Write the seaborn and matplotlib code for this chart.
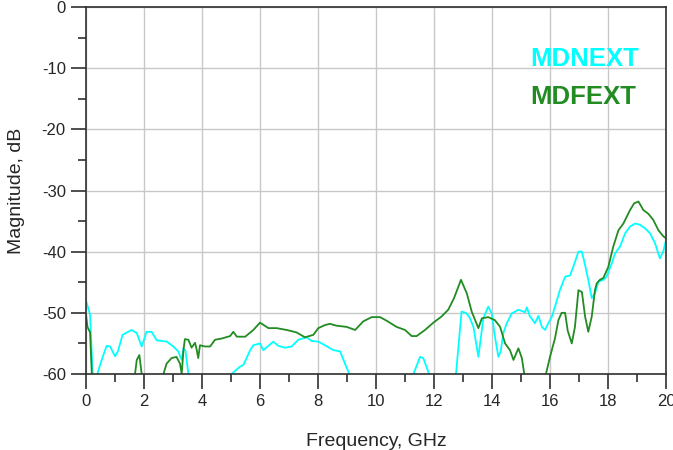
"""Crosstalk magnitude plot: MDNEXT and MDFEXT vs frequency."""

import matplotlib
import numpy as np
import pandas as pd
import seaborn as sns

matplotlib.use("Agg")
import matplotlib.pyplot as plt
from matplotlib.ticker import MultipleLocator

# values; -65 means "below the plot floor"
next_freq = [0.0, 0.14, 0.23, 0.3, 0.39, 0.54, 0.71, 0.83, 1.0, 1.1, 1.26, 1.57, 1.75, 1.92,
             2.09, 2.26, 2.44, 2.78, 3.01, 3.18, 3.3, 3.36, 3.43, 3.53, 3.6,
             4.95, 5.02, 5.31, 5.43, 5.66, 5.77, 6.0, 6.11, 6.29, 6.46, 6.63, 6.86, 7.09,
             7.32, 7.61, 7.78, 8.01, 8.24, 8.53, 8.76, 8.93, 9.08, 9.15,
             11.22, 11.29, 11.52, 11.63, 11.83, 11.9,
             12.72, 12.76, 12.95, 13.1, 13.22, 13.36, 13.53, 13.59, 13.7, 13.87, 13.99,
             14.1, 14.22, 14.3, 14.39, 14.51, 14.68, 14.91, 15.14, 15.2, 15.3, 15.48,
             15.6, 15.72, 15.83, 15.94, 16.06, 16.17, 16.34, 16.52, 16.69, 16.8, 16.98,
             17.1, 17.21, 17.32, 17.44, 17.55, 17.67, 17.84, 17.95, 18.13, 18.24, 18.41,
             18.59, 18.76, 18.93, 19.1, 19.28, 19.45, 19.62, 19.79, 19.91, 20.0]
next_db = [-48.0, -50.3, -60.0, -65.0, -60.0, -57.7, -55.4, -55.5, -57.1, -56.3, -53.6, -52.8,
           -53.3, -55.5, -53.1, -53.1, -54.5, -54.7, -55.5, -56.3, -57.7, -55.8, -56.2, -60.0,
           -65.0,
           -65.0, -60.0, -58.8, -58.5, -56.1, -55.3, -55.0, -56.1, -55.4, -54.7, -55.4, -55.7,
           -55.5, -54.4, -54.0, -54.6, -54.7, -55.3, -56.1, -56.3, -58.3, -60.0, -65.0,
           -65.0, -60.0, -57.2, -57.4, -60.0, -65.0,
           -65.0, -59.9, -49.8, -50.0, -50.7, -52.3, -57.2, -55.0, -50.9, -49.0, -50.1,
           -53.9, -57.2, -56.3, -53.3, -51.7, -50.1, -49.5, -49.9, -49.1, -50.5, -51.7,
           -50.5, -52.3, -52.8, -51.7, -50.7, -49.0, -46.3, -44.1, -43.9, -42.5, -40.0,
           -40.0, -42.2, -44.6, -47.6, -46.8, -44.9, -44.6, -44.1, -41.9, -40.3, -39.2,
           -37.0, -35.9, -35.4, -35.6, -36.2, -37.0, -38.6, -41.1, -39.9, -38.1]

fext_freq = [0.0, 0.05, 0.14, 0.2, 0.25,
             1.62, 1.69, 1.75, 1.84, 1.92, 1.98,
             2.6, 2.67, 2.78, 2.95, 3.12, 3.24, 3.3, 3.36, 3.41, 3.53, 3.64, 3.76, 3.82,
             3.87, 3.93, 4.1, 4.28, 4.45, 4.68, 4.97, 5.08, 5.2, 5.49, 5.77, 6.0, 6.29,
             6.57, 6.92, 7.26, 7.55, 7.84, 8.01, 8.24, 8.41, 8.64, 8.99, 9.28, 9.56, 9.85,
             10.14, 10.37, 10.71, 11.0, 11.23, 11.4, 11.69, 11.98, 12.26, 12.49, 12.69,
             12.93, 13.13, 13.3, 13.53, 13.65, 13.87, 14.1, 14.28, 14.45, 14.62, 14.74,
             14.91, 15.03, 15.11, 15.18,
             15.8, 15.86, 16.0, 16.17, 16.29, 16.4, 16.52, 16.61, 16.75, 16.86, 16.98,
             17.1, 17.21, 17.32, 17.44, 17.55, 17.61, 17.72, 17.84, 18.01, 18.18, 18.36,
             18.53, 18.76, 18.9, 19.05, 19.22, 19.39, 19.56, 19.74, 19.91, 20.0]
fext_db = [-50.3, -52.3, -53.2, -60.0, -65.0,
           -65.0, -60.0, -57.7, -56.9, -60.0, -65.0,
           -65.0, -60.0, -58.3, -57.4, -57.2, -58.3, -60.0, -56.1, -54.3, -54.4, -55.7,
           -54.9, -56.1, -57.4, -55.3, -55.5, -55.5, -54.4, -54.2, -53.8, -53.1, -53.9,
           -53.9, -52.8, -51.6, -52.5, -52.5, -52.8, -53.2, -54.0, -53.6, -52.5, -52.0,
           -51.8, -52.1, -52.3, -52.8, -51.4, -50.7, -50.7, -51.3, -52.3, -52.8, -53.8,
           -53.8, -52.8, -51.6, -50.6, -49.5, -47.6, -44.6, -46.8, -49.8, -52.5, -50.9,
           -50.7, -51.2, -52.3, -55.0, -56.1, -57.7, -55.8, -57.4, -59.9, -65.0,
           -65.0, -60.0, -57.2, -54.2, -51.2, -50.0, -50.0, -52.9, -55.0, -52.3, -46.3,
           -46.6, -50.6, -53.1, -50.6, -46.3, -45.2, -44.6, -44.3, -42.5, -39.2, -36.5,
           -35.4, -33.2, -32.1, -31.8, -33.2, -33.8, -34.8, -36.5, -37.5, -37.8]

series_names = ["MDNEXT", "MDFEXT"]
colors = {"MDNEXT": "#00FFFF", "MDFEXT": "#228B22"}

df = pd.concat([
    pd.DataFrame({"freq": next_freq, "db": next_db, "trace": "MDNEXT"}),
    pd.DataFrame({"freq": fext_freq, "db": fext_db, "trace": "MDFEXT"}),
], ignore_index=True)

sns.set_style("white")
plt.rcParams["font.family"] = ["Liberation Sans", "DejaVu Sans"]
plt.rcParams["axes.unicode_minus"] = False

fig = plt.figure(figsize=(6.73, 4.5), dpi=100)
ax = fig.add_axes([0.1278, 0.1689, 0.8618, 0.8155])

sns.lineplot(data=df, x="freq", y="db", hue="trace", palette=colors, hue_order=series_names,
             estimator=None, sort=False, linewidth=1.3, legend=False, ax=ax)

ax.set_xlim(0, 20)
ax.set_ylim(-60, 0)
ax.xaxis.set_major_locator(MultipleLocator(2))
ax.xaxis.set_minor_locator(MultipleLocator(1))
ax.yaxis.set_major_locator(MultipleLocator(10))
ax.yaxis.set_minor_locator(MultipleLocator(5))
ax.grid(True, which="major", color="#c8c8c8", linewidth=1.0)
ax.set_axisbelow(True)
for sp in ax.spines.values():
    sp.set_color("#303030")
    sp.set_linewidth(1.2)
ax.tick_params(which="major", direction="out", length=10.5, width=1.2, color="#303030",
               labelsize=12, pad=4)
ax.tick_params(which="minor", direction="out", length=5.5, width=1.2, color="#303030")
ax.tick_params(axis="x", which="both", bottom=True)
ax.tick_params(axis="y", which="both", left=True)

ax.set_xlabel("Frequency, GHz", fontsize=14, labelpad=17)
ax.set_ylabel("Magnitude, dB", fontsize=14, labelpad=12)

ax.text(0.766, 0.857, "MDNEXT", transform=ax.transAxes, color=colors["MDNEXT"],
        fontsize=18.5, fontweight="bold", va="center", ha="left")
ax.text(0.766, 0.754, "MDFEXT", transform=ax.transAxes, color=colors["MDFEXT"],
        fontsize=18.5, fontweight="bold", va="center", ha="left")

fig.savefig("out.png", dpi=100)
plt.close(fig)
